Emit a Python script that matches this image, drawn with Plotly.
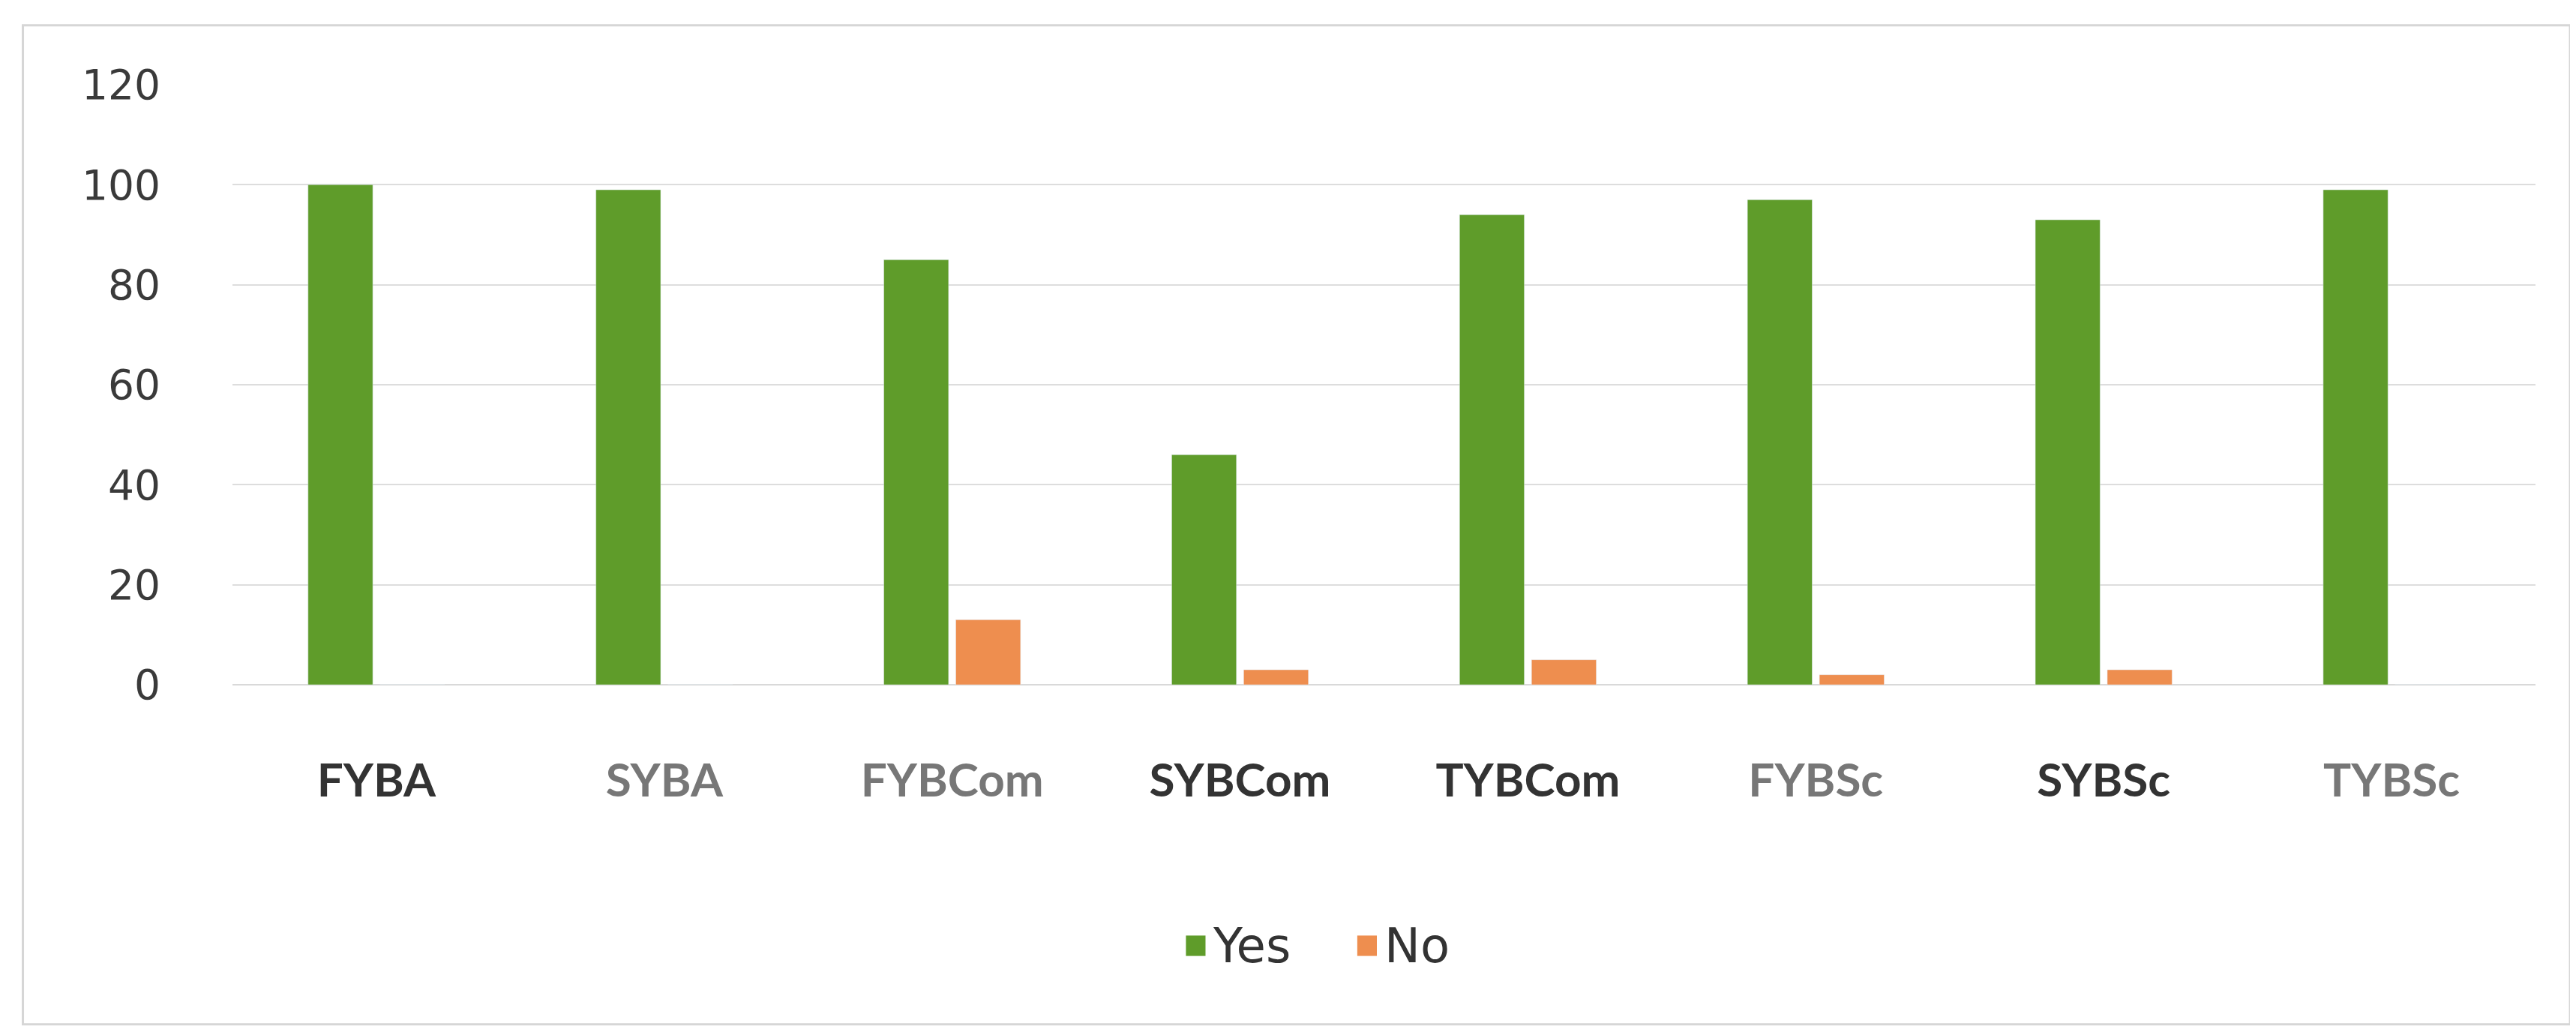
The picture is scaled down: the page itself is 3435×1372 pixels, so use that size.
import plotly.graph_objects as go

classes = ["FYBA", "SYBA", "FYBCom", "SYBCom", "TYBCom", "FYBSc", "SYBSc", "TYBSc"]
yes_vals = [100, 99, 85, 46, 94, 97, 93, 99]
no_vals = [0, 0, 13, 3, 5, 2, 3, 0]
label_colors = ["#333333", "#777777", "#777777", "#333333", "#333333", "#777777", "#333333", "#777777"]
y_ticks = [0, 20, 40, 60, 80, 100, 120]

green = "#5f9c2a"
orange = "#ee8e4f"

fig = go.Figure()
fig.add_trace(go.Bar(x=classes, y=yes_vals, name="Yes", marker_color=green))
fig.add_trace(go.Bar(x=classes, y=no_vals, name="No", marker_color=orange))

ticktext = [f"<span style='color:{c}'><b>{t}</b></span>" for t, c in zip(classes, label_colors)]

fig.update_layout(
    width=3435, height=1372,
    barmode="group", bargap=0.5, bargroupgap=0.1,
    plot_bgcolor="white", paper_bgcolor="white",
    margin=dict(l=302, r=62, t=105, b=467),
    font=dict(family="DejaVu Sans", color="#333333"),
    showlegend=False,
    xaxis=dict(tickmode="array", tickvals=classes, ticktext=ticktext,
               tickfont=dict(family="Lato", size=62),
               ticks="outside", ticklen=74, tickcolor="rgba(0,0,0,0)",
               showgrid=False, showline=False),
    yaxis=dict(range=[0, 120], tickvals=y_ticks, tickfont=dict(size=55, color="#3a3a3a"),
               showgrid=True, gridcolor="#dddddd", gridwidth=2,
               zeroline=True, zerolinecolor="#d9d9d9", zerolinewidth=2,
               ticks="outside", ticklen=84, tickcolor="rgba(0,0,0,0)"),
)

# legend drawn by hand so the swatches can be as big as in the original
legend_items = [("Yes", green, 0.414), ("No", orange, 0.4884)]
for name, col, x0 in legend_items:
    fig.add_shape(type="rect", xref="paper", yref="paper",
                  x0=x0, x1=x0 + 0.0085, y0=-0.452, y1=-0.418,
                  fillcolor=col, line=dict(width=0))
    fig.add_annotation(text=name, xref="paper", yref="paper", x=x0 + 0.011, y=-0.435,
                       xanchor="left", yanchor="middle", showarrow=False,
                       font=dict(size=64, family="DejaVu Sans", color="#333333"))

# faint frame around the whole chart
fig.add_shape(type="rect", xref="paper", yref="paper",
              x0=-0.091, x1=1.015, y0=-0.566, y1=1.099,
              line=dict(color="#d6d6d6", width=3), layer="below")

fig.write_html("out.html")
